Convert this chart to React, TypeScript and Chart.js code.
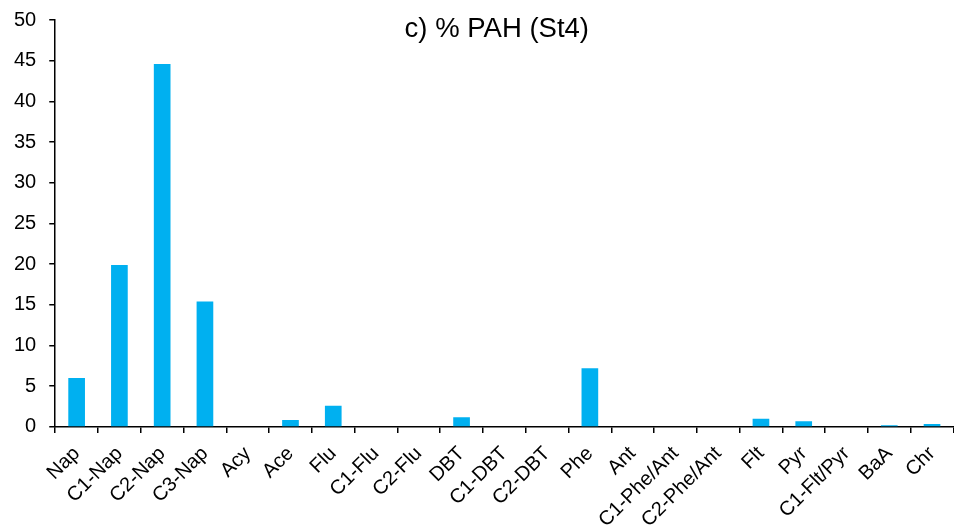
import React, { useEffect, useRef } from "react";
import { Chart, registerables } from "chart.js";

Chart.register(...registerables);

const categories = [
  "Nap", "C1-Nap", "C2-Nap", "C3-Nap", "Acy", "Ace", "Flu", "C1-Flu", "C2-Flu",
  "DBT", "C1-DBT", "C2-DBT", "Phe", "Ant", "C1-Phe/Ant", "C2-Phe/Ant", "Flt",
  "Pyr", "C1-Flt/Pyr", "BaA", "Chr",
];
const pahPercent = [
  6.0, 19.9, 44.6, 15.4, 0, 0.85, 2.6, 0, 0,
  1.2, 0, 0, 7.2, 0, 0, 0, 1.0,
  0.7, 0, 0.22, 0.35,
];
const chartTitle = "c) % PAH (St4)";
const yMin = 0;
const yMax = 50;
const yStep = 5;

const FONT = "'Liberation Sans', Arial, sans-serif";

const titlePlugin = {
  id: "insideTitle",
  afterDraw(chart: any) {
    const { ctx, chartArea } = chart;
    ctx.save();
    ctx.font = `27.5px ${FONT}`;
    ctx.fillStyle = "#000";
    ctx.textAlign = "center";
    ctx.textBaseline = "alphabetic";
    const x = chartArea.left + (chartArea.right - chartArea.left) * 0.4916;
    ctx.fillText(chartTitle, x, chartArea.top + 16.7);
    ctx.restore();
  },
};

export default function App() {
  const canvasRef = useRef<HTMLCanvasElement | null>(null);

  useEffect(() => {
    document.body.style.margin = "0";
    const canvas = canvasRef.current;
    if (!canvas) return;
    const chart = new Chart(canvas, {
      type: "bar",
      data: {
        labels: categories,
        datasets: [
          {
            data: pahPercent,
            backgroundColor: "#00B0F0",
            borderWidth: 0,
            barPercentage: 0.39,
            categoryPercentage: 1,
          },
        ],
      },
      options: {
        animation: false,
        responsive: false,
        maintainAspectRatio: false,
        devicePixelRatio: 1,
        layout: { padding: { top: 0, left: 1, right: 0, bottom: 0 } },
        plugins: {
          legend: { display: false },
          title: { display: false },
          tooltip: { enabled: false },
        },
        scales: {
          x: {
            grid: {
              display: true,
              drawOnChartArea: false,
              drawTicks: true,
              tickLength: 6,
              color: "#000",
              lineWidth: 1.5,
              offset: true,
            },
            border: { display: true, color: "#000", width: 1.5 },
            ticks: {
              color: "#000",
              font: { family: FONT, size: 20 },
              minRotation: 45,
              maxRotation: 45,
              autoSkip: false,
              padding: 9,
            },
          },
          y: {
            min: yMin,
            max: yMax,
            grid: {
              display: true,
              drawOnChartArea: false,
              drawTicks: true,
              tickLength: 6,
              color: "#000",
              lineWidth: 1.5,
            },
            border: { display: true, color: "#000", width: 1.5 },
            ticks: {
              stepSize: yStep,
              color: "#000",
              font: { family: FONT, size: 20 },
              padding: 13,
            },
          },
        },
      },
      plugins: [titlePlugin],
    });
    return () => chart.destroy();
  }, []);

  return (
    <div style={{ position: "fixed", left: 0, top: 0, width: 954, height: 529, overflow: "hidden", background: "#fff" }}>
      <canvas ref={canvasRef} width={958} height={546} style={{ display: "block", width: 958, height: 546, marginTop: -5 }} />
    </div>
  );
}
